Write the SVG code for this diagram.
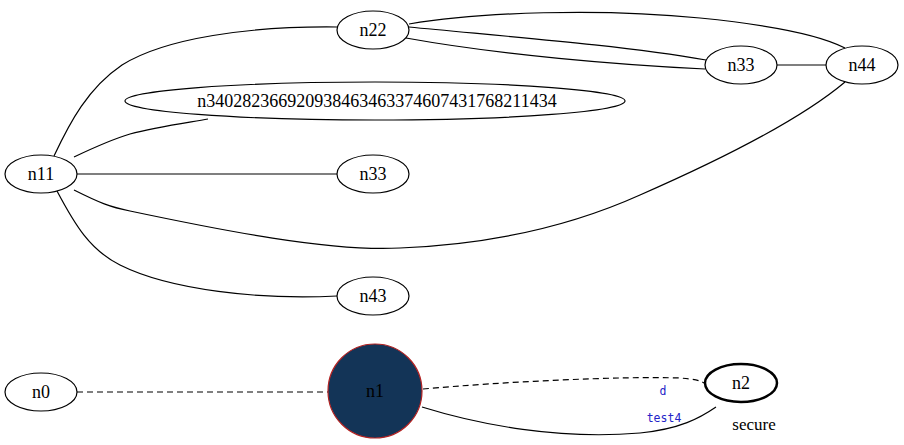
<svg xmlns="http://www.w3.org/2000/svg" width="904" height="445" viewBox="0 0 904 445">
<style>
.n ellipse{fill:#fff;stroke:#000;stroke-width:1.2}
.t{font-family:"Liberation Serif","Times New Roman",serif;font-size:18px;fill:#000;text-anchor:middle}
.e path{fill:none;stroke:#000;stroke-width:1.2}
.e .d{stroke-dasharray:6,4}
.l{font-family:"DejaVu Sans Mono","Liberation Mono",monospace;font-size:11.5px;fill:#2424c8;text-anchor:middle}
</style>
<rect width="904" height="445" fill="#fff"/>
<g class="e" id="edges">
<path d="M54,156 C70,122 88,88 122,65 C165,38 250,26 337,27"/>
<path d="M74,157 C95,147 110,140 130,134 C155,127 185,123 208,119"/>
<path d="M77,174 L337,174"/>
<path d="M74,190 C100,203 110,207 130,211 C220,230 330,252 400,248 C500,244 580,222 640,195 C720,160 800,120 845,82"/>
<path d="M57,191 C75,225 90,250 120,265 C170,290 260,300 337,296"/>
<path d="M409,27 C500,36 620,45 706,60"/>
<path d="M406,38 C500,55 620,65 705,69"/>
<path d="M409,24 C480,12 600,8 700,18 C770,25 820,35 845,48"/>
<path d="M777,65 L826,65"/>
<path class="d" d="M77,392 L328,392"/>
<path class="d" d="M423,389 C500,382 620,376 680,378 C693,379 700,380 706,384"/>
<path d="M422,407 C480,425 560,440 640,433 C680,429 700,418 716,407"/>
</g>
<g class="n" id="n22"><ellipse cx="373" cy="30" rx="36" ry="19"/><text class="t" x="373" y="36">n22</text></g>
<g class="n" id="n33a"><ellipse cx="741" cy="65" rx="36" ry="19"/><text class="t" x="741" y="71">n33</text></g>
<g class="n" id="n44"><ellipse cx="862" cy="65" rx="36" ry="19"/><text class="t" x="862" y="71">n44</text></g>
<g class="n" id="nlong"><ellipse cx="375" cy="101" rx="250" ry="19"/><text class="t" x="377" y="107">n340282366920938463463374607431768211434</text></g>
<g class="n" id="n11"><ellipse cx="41" cy="174" rx="36" ry="19"/><text class="t" x="41" y="180">n11</text></g>
<g class="n" id="n33b"><ellipse cx="373" cy="174" rx="36" ry="19"/><text class="t" x="373" y="180">n33</text></g>
<g class="n" id="n43"><ellipse cx="373" cy="296" rx="36" ry="19"/><text class="t" x="373" y="302">n43</text></g>
<g class="n" id="n0"><ellipse cx="41" cy="392" rx="36" ry="19"/><text class="t" x="41" y="398">n0</text></g>
<g id="n1"><circle cx="375" cy="391" r="47" fill="#133457" stroke="#b22222" stroke-width="1.2"/><text class="t" x="375" y="397">n1</text></g>
<g id="n2"><ellipse cx="741" cy="383" rx="36" ry="19" fill="#fff" stroke="#000" stroke-width="2.5"/><text class="t" x="741" y="389">n2</text><text class="t" x="754" y="430" style="font-size:17px">secure</text></g>
<g id="labels"><text class="l" x="663" y="395">d</text><text class="l" x="664" y="422">test4</text></g>
</svg>
